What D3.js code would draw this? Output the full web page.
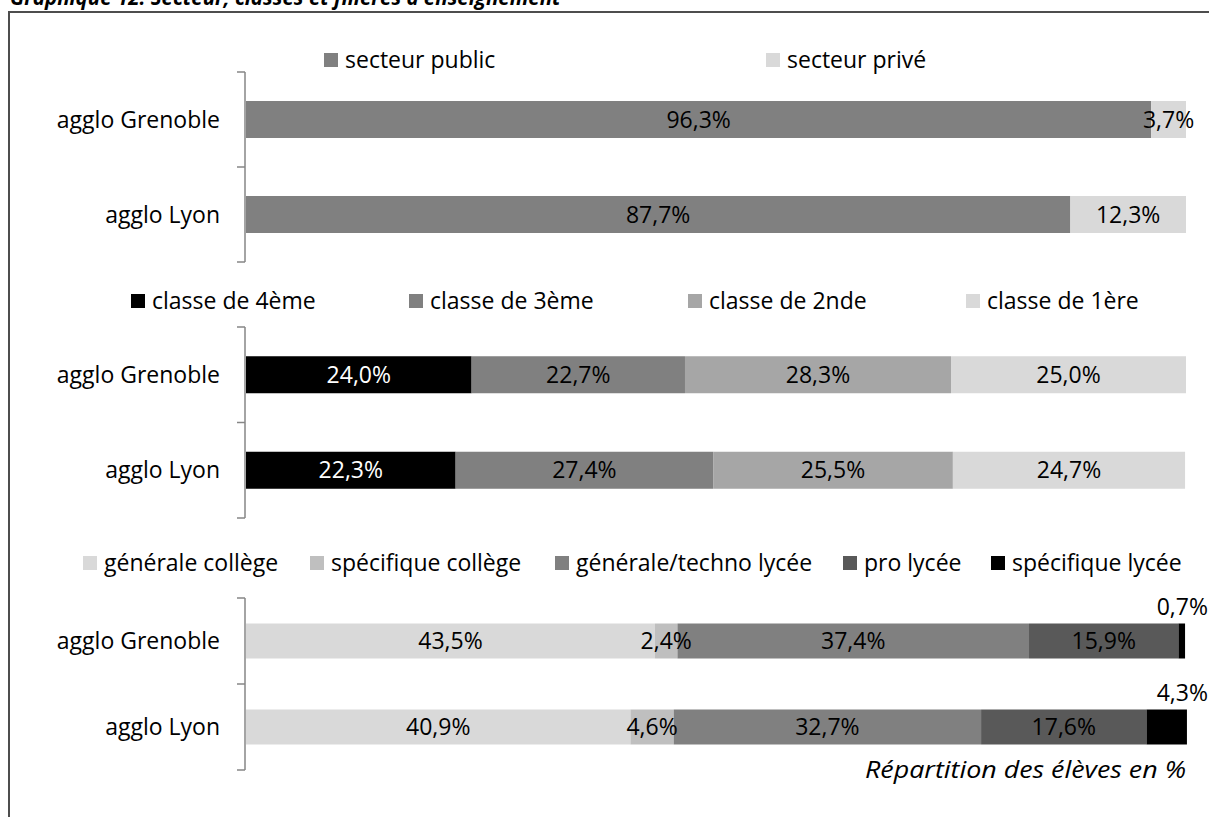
<!DOCTYPE html>
<html>
<head>
<meta charset="utf-8">
<script src="https://cdn.jsdelivr.net/npm/d3@7"></script>
<style>
  body { margin: 0; background: #fff; }
  svg { display: block; font-family: "Open Sans", sans-serif; }
</style>
</head>
<body>
<script>
const zones = ['agglo Grenoble', 'agglo Lyon'];

// panel 1 : secteur
const secteurSeries = ['secteur public', 'secteur privé'];
const secteurColors = ['#808080', '#d9d9d9'];
const secteurGrenoble = [96.3, 3.7];
const secteurLyon = [87.7, 12.3];

// panel 2 : classes
const classeSeries = ['classe de 4ème', 'classe de 3ème', 'classe de 2nde', 'classe de 1ère'];
const classeColors = ['#000000', '#808080', '#a6a6a6', '#d9d9d9'];
const classeGrenoble = [24.0, 22.7, 28.3, 25.0];
const classeLyon = [22.3, 27.4, 25.5, 24.7];

// panel 3 : filières
const filiereSeries = ['générale collège', 'spécifique collège', 'générale/techno lycée', 'pro lycée', 'spécifique lycée'];
const filiereColors = ['#d9d9d9', '#bfbfbf', '#808080', '#595959', '#000000'];
const filiereGrenoble = [43.5, 2.4, 37.4, 15.9, 0.7];
const filiereLyon = [40.9, 4.6, 32.7, 17.6, 4.3];

const title = "Graphique 12. Secteur, classes et filières d'enseignement";
const note = 'Répartition des élèves en %';

const W = 1209, H = 817;
const svg = d3.select('body').append('svg').attr('width', W).attr('height', H);

svg.append('text')
  .attr('x', 10).attr('y', 5)
  .attr('font-size', 20.5).attr('font-weight', 'bold').attr('font-style', 'italic')
  .text(title);

// frame
svg.append('path')
  .attr('d', 'M9,817 V12 H1209')
  .attr('fill', 'none')
  .attr('stroke', '#4d4d4d')
  .attr('stroke-width', 2);

const x = d3.scaleLinear().domain([0, 100]).range([246, 1186]);
const fs = 23;

const panels = [
  { series: secteurSeries, colors: secteurColors, rows: [secteurGrenoble, secteurLyon],
    legendY: 60, legendX: [324, 766], top: 72, bottom: 262, barH: 37 },
  { series: classeSeries, colors: classeColors, rows: [classeGrenoble, classeLyon],
    legendY: 301, legendX: [131, 409, 688, 966], top: 327, bottom: 518, barH: 37 },
  { series: filiereSeries, colors: filiereColors, rows: [filiereGrenoble, filiereLyon],
    legendY: 563, legendX: [83, 310, 555, 843, 991], top: 598, bottom: 770, barH: 35 }
];

panels.forEach((p, pi) => {
  const g = svg.append('g');
  const y = d3.scaleBand().domain(zones).range([p.top, p.bottom]);

  // legend
  const leg = g.selectAll('.leg').data(p.series).enter().append('g')
    .attr('transform', (d, i) => `translate(${p.legendX[i]},${p.legendY})`);
  leg.append('rect').attr('x', 0).attr('y', -7).attr('width', 14).attr('height', 14)
    .attr('fill', (d, i) => p.colors[i]);
  leg.append('text').attr('x', 21).attr('y', 0).attr('dy', '0.35em')
    .attr('font-size', fs).text(d => d);

  // bracket axis
  const edges = [p.top].concat(zones.map(z => y(z) + y.bandwidth()));
  g.append('line').attr('x1', 245).attr('x2', 245).attr('y1', p.top).attr('y2', p.bottom)
    .attr('stroke', '#868686').attr('stroke-width', 1.5);
  g.selectAll('.tk').data(edges).enter().append('line')
    .attr('x1', 237).attr('x2', 245).attr('y1', d => d).attr('y2', d => d)
    .attr('stroke', '#868686').attr('stroke-width', 1.5);

  // category labels
  g.selectAll('.cat').data(zones).enter().append('text')
    .attr('x', 220).attr('y', d => y(d) + y.bandwidth() / 2).attr('dy', '0.35em')
    .attr('text-anchor', 'end').attr('font-size', fs).text(d => d);

  // stacked bars
  p.rows.forEach((vals, ri) => {
    const cy = y(zones[ri]) + y.bandwidth() / 2;
    let acc = 0;
    const segs = vals.map((v, i) => {
      const s = { v, i, x0: acc, x1: acc + v };
      acc += v;
      return s;
    });
    const outside = d => pi === 2 && d.i === vals.length - 1;
    g.selectAll('.bar' + ri).data(segs).enter().append('rect')
      .attr('x', d => x(d.x0)).attr('y', cy - p.barH / 2)
      .attr('width', d => x(d.x1) - x(d.x0)).attr('height', p.barH)
      .attr('fill', d => p.colors[d.i]);
    g.selectAll('.lab' + ri).data(segs).enter().append('text')
      .attr('x', d => outside(d) ? x(100) + 22 : (x(d.x0) + x(d.x1)) / 2)
      .attr('y', d => outside(d) ? cy - p.barH / 2 - 17 : cy)
      .attr('dy', '0.35em')
      .attr('text-anchor', d => outside(d) ? 'end' : 'middle')
      .attr('font-size', fs)
      .attr('fill', d => p.colors[d.i] === '#000000' && !outside(d) ? '#fff' : '#000')
      .text(d => d.v.toFixed(1).replace('.', ',') + '%');
  });
});

svg.append('text')
  .attr('x', 1186).attr('y', 770).attr('dy', '0.35em')
  .attr('text-anchor', 'end').attr('font-size', 24).attr('font-style', 'italic')
  .attr('textLength', 321).attr('lengthAdjust', 'spacingAndGlyphs')
  .text(note);
</script>
</body>
</html>
